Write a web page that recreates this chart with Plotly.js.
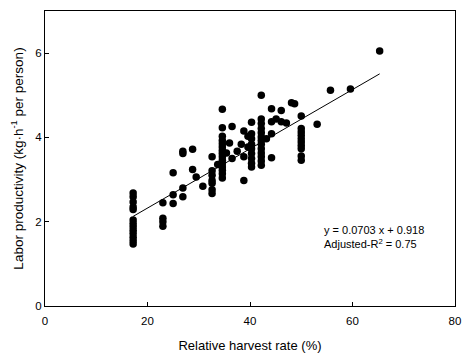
<!DOCTYPE html>
<html>
<head>
<meta charset="utf-8">
<script src="https://cdn.plot.ly/plotly-3.0.1.min.js"></script>
<style>html,body{margin:0;padding:0;background:#fff;}#chart{width:462px;height:353px;}</style>
</head>
<body>
<div id="chart"></div>
<script>
// Relative harvest rate (%) for each observation
const harvestRate = [
  17.2,17.2,17.2,17.2,17.2,17.2,17.2,17.2,17.2,17.2,17.2,17.2,17.2,
  23.0,23.0,23.0,23.0,
  25.0,25.0,25.0,
  26.9,26.9,26.9,26.9,
  28.8,28.8,29.5,30.8,
  32.6,32.6,32.6,32.6,32.6,32.6,32.6,
  33.7,
  34.6,34.6,34.6,34.6,34.6,34.6,34.6,34.6,34.6,34.6,34.6,34.6,34.6,34.6,34.6,
  35.4,36.0,36.5,36.5,37.5,38.3,38.8,38.8,38.8,39.6,39.6,
  40.3,40.3,40.3,40.3,40.3,40.3,40.3,40.3,40.3,
  42.2,42.2,42.2,42.2,42.2,42.2,42.2,42.2,42.2,42.2,42.2,42.2,42.2,
  43.2,44.2,44.2,44.2,44.2,45.1,46.1,46.1,47.1,48.1,48.7,
  50.0,50.0,50.0,50.0,50.0,50.0,50.0,50.0,50.0,50.0,
  53.1,55.7,59.6,65.3
];
// Labor productivity (kg·h-1 per person)
const productivity = [
  2.68,2.59,2.47,2.35,2.29,2.04,1.96,1.88,1.80,1.72,1.63,1.55,1.47,
  2.45,2.08,2.00,1.89,
  3.16,2.64,2.43,
  3.67,3.62,2.80,2.59,
  3.72,3.24,3.06,2.84,
  3.54,3.21,3.10,2.98,2.91,2.76,2.67,
  3.36,
  4.67,4.23,4.03,3.93,3.85,3.77,3.69,3.62,3.54,3.46,3.38,3.30,3.22,3.14,3.04,
  3.63,3.87,4.26,3.50,3.67,3.84,4.15,3.54,2.98,4.03,3.77,
  4.36,4.09,3.97,3.84,3.73,3.62,3.50,3.39,3.30,
  5.00,4.44,4.33,4.21,4.11,4.01,3.93,3.84,3.73,3.63,3.54,3.44,3.34,
  3.97,4.68,4.37,4.09,3.52,4.44,4.64,4.37,4.34,4.82,4.80,
  4.51,4.21,4.13,4.05,3.97,3.89,3.81,3.73,3.56,3.46,
  4.31,5.12,5.15,6.05
];
// Regression line y = slope * x + intercept
const slope = 0.0703;
const intercept = 0.918;
const fitRange = [17.2, 65.3];
const xTicks = [0, 20, 40, 60, 80];
const yTicks = [0, 2, 4, 6];

const fitY = fitRange.map(x => slope * x + intercept);

const traces = [
  {
    x: harvestRate, y: productivity, type: 'scatter', mode: 'markers',
    marker: {color: '#000', size: 7.5},
    hoverinfo: 'skip', showlegend: false
  },
  {
    x: fitRange, y: fitY, type: 'scatter', mode: 'lines',
    line: {color: '#000', width: 1},
    hoverinfo: 'skip', showlegend: false
  }
];

const font = {family: 'Liberation Sans, Arial, sans-serif', color: '#000'};

const layout = {
  width: 462, height: 353,
  margin: {l: 45, r: 7, t: 11, b: 47},
  paper_bgcolor: '#fff', plot_bgcolor: '#fff',
  font: Object.assign({size: 11}, font),
  showlegend: false,
  xaxis: {
    range: [0, 80], tickvals: xTicks, ticktext: xTicks.map(String),
    showgrid: false, zeroline: false,
    showline: true, linecolor: '#000', linewidth: 1, mirror: true,
    ticks: 'inside', ticklen: 4, tickcolor: '#000', tickwidth: 1,
    ticklabelstandoff: 4,
    tickfont: Object.assign({size: 11.5}, font),
    title: {text: 'Relative harvest rate (%)', font: Object.assign({size: 13}, font), standoff: 16}
  },
  yaxis: {
    range: [0, 7], tickvals: yTicks, ticktext: yTicks.map(String),
    showgrid: false, zeroline: false,
    showline: true, linecolor: '#000', linewidth: 1, mirror: true,
    ticks: 'inside', ticklen: 4, tickcolor: '#000', tickwidth: 1,
    tickfont: Object.assign({size: 11.5}, font),
    title: {text: 'Labor productivity (kg·h<sup>-1</sup> per person)', font: Object.assign({size: 13.5}, font), standoff: 8}
  },
  annotations: [
    {
      xref: 'paper', yref: 'paper', x: 0.675, y: 0.235,
      xanchor: 'left', yanchor: 'middle', align: 'left', showarrow: false,
      text: 'y = 0.0703 x + 0.918<br>Adjusted-R<sup>2</sup> = 0.75',
      font: Object.assign({size: 11}, font)
    }
  ]
};

Plotly.newPlot('chart', traces, layout, {displayModeBar: false, staticPlot: true});
</script>
</body>
</html>
